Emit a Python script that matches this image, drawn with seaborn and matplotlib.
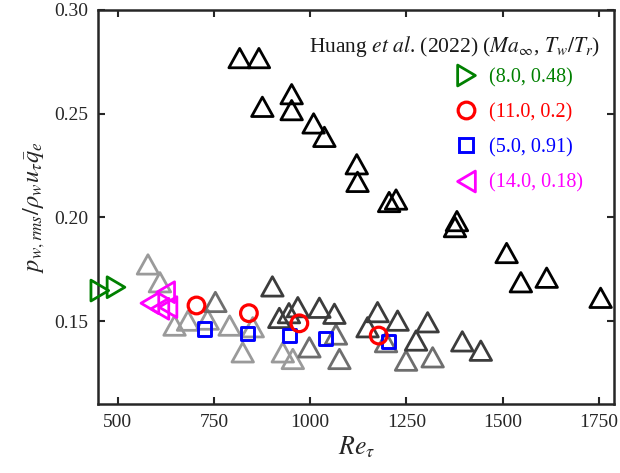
import numpy as np
import pandas as pd
import matplotlib
matplotlib.use('Agg')
import matplotlib.pyplot as plt
from matplotlib.path import Path
from matplotlib.lines import Line2D
import seaborn as sns

# upper branch (black)
re_black = [817, 867, 876, 952, 952, 1009, 1037, 1121, 1123, 1205, 1223, 1381, 1376, 1510, 1547, 1614, 1754]
p_black = [0.2768, 0.2768, 0.2533, 0.2594, 0.2517, 0.2453, 0.2388, 0.2256, 0.2171, 0.2074, 0.2086,
           0.1982, 0.1953, 0.1828, 0.1687, 0.1709, 0.1612]

# lower branch, three grey shades
re_dark = [902, 920, 945, 968, 1024, 1063, 1149, 1175, 1227, 1275, 1305, 1395, 1443]
p_dark = [0.1667, 0.1515, 0.1538, 0.1567, 0.1564, 0.1535, 0.147, 0.1543, 0.1502, 0.1406, 0.1494, 0.1402, 0.1357]

re_mid = [754, 998, 1067, 1076, 1197, 1249, 1318]
p_mid = [0.1592, 0.1373, 0.1435, 0.1317, 0.1398, 0.1309, 0.1325]

re_light = [579, 610, 648, 683, 734, 791, 825, 851, 929, 955]
p_light = [0.1773, 0.1687, 0.1478, 0.1502, 0.1507, 0.1478, 0.1349, 0.147, 0.1349, 0.1317]

# Huang et al. (2022)
re_green = [454, 496]
p_green = [0.1647, 0.1663]
re_red = [705, 841, 972, 1178]
p_red = [0.1575, 0.1538, 0.1489, 0.143]
re_blue = [726, 838, 946, 1040, 1204]
p_blue = [0.1462, 0.1441, 0.143, 0.1414, 0.1401]
re_mag = [584, 610, 625, 631]
p_mag = [0.1586, 0.1559, 0.1639, 0.1567]

huang_labels = ['(8.0, 0.48)', '(11.0, 0.2)', '(5.0, 0.91)', '(14.0, 0.18)']
huang_colors = ['#008000', '#ff0000', '#0000ff', '#ff00ff']

sns.set_style('ticks')
plt.rcParams['font.family'] = ['Liberation Serif', 'DejaVu Serif']
plt.rcParams['mathtext.fontset'] = 'stix'

tri_up = Path([(-1, -0.9), (1, -0.9), (0, 0.9), (-1, -0.9)], closed=True)
tri_right = Path([(-0.85, -1), (0.85, 0), (-0.85, 1), (-0.85, -1)], closed=True)
tri_left = Path([(0.85, -1), (-0.85, 0), (0.85, 1), (0.85, -1)], closed=True)

fig = plt.figure(figsize=(6.2, 4.73), dpi=100)
ax = fig.add_axes([0.1585, 0.1459, 0.8326, 0.833])

tri_s = 15.5 ** 2
lw = 2.0
for xs, ys, c in [(re_light, p_light, '#9a9a9a'), (re_mid, p_mid, '#6e6e6e'),
                  (re_dark, p_dark, '#3c3c3c'), (re_black, p_black, '#000000')]:
    sns.scatterplot(x=xs, y=ys, marker=tri_up, s=tri_s, facecolor='none', edgecolor=c,
                    linewidth=lw, ax=ax, zorder=3)

sns.scatterplot(x=re_mag, y=p_mag, marker=tri_left, s=15 ** 2, facecolor='none',
                edgecolor=huang_colors[3], linewidth=lw, ax=ax, zorder=4)
sns.scatterplot(x=re_blue, y=p_blue, marker='s', s=9.5 ** 2, facecolor='none',
                edgecolor=huang_colors[2], linewidth=2.1, ax=ax, zorder=4)
sns.scatterplot(x=re_red, y=p_red, marker='o', s=12 ** 2, facecolor='none',
                edgecolor=huang_colors[1], linewidth=2.3, ax=ax, zorder=5)
sns.scatterplot(x=re_green, y=p_green, marker=tri_right, s=15 ** 2, facecolor='none',
                edgecolor=huang_colors[0], linewidth=lw, ax=ax, zorder=5, clip_on=False)

ax.set_xlim(450, 1790)
ax.set_ylim(0.11, 0.30)
ax.set_xticks([500, 750, 1000, 1250, 1500, 1750])
ax.set_yticks([0.15, 0.20, 0.25, 0.30])
ax.set_yticklabels(['0.15', '0.20', '0.25', '0.30'])
ax.tick_params(direction='in', length=5, width=1.5, top=True, right=True,
               labelsize=14, color='#262626', labelcolor='#262626', pad=7)
for sp in ax.spines.values():
    sp.set_linewidth(1.8)
    sp.set_color('#262626')

ax.set_xlabel(r'$Re_\tau$', fontsize=18.5, labelpad=3)
ax.set_ylabel(r'$p_{w,rms}/\rho_w u_\tau \bar{q}_e$', fontsize=17.5, labelpad=5)

# legend heading as plain text, entries as a legend below it
ax.text(0.972, 0.893, r'Huang $\mathit{et\ al}$. (2022) ($Ma_{\infty}$, $T_w/T_r$)',
        transform=ax.transAxes, ha='right', va='baseline', fontsize=15.5, color='#1a1a1a')

handles = [
    Line2D([], [], ls='none', marker=tri_right, ms=15, mfc='none', mec=huang_colors[0], mew=lw),
    Line2D([], [], ls='none', marker='o', ms=12, mfc='none', mec=huang_colors[1], mew=2.3),
    Line2D([], [], ls='none', marker='s', ms=9.5, mfc='none', mec=huang_colors[2], mew=2.1),
    Line2D([], [], ls='none', marker=tri_left, ms=15, mfc='none', mec=huang_colors[3], mew=lw),
]
leg = ax.legend(handles, huang_labels, loc='upper left', bbox_to_anchor=(0.693, 0.853),
                frameon=False, fontsize=14.5, labelspacing=0.79, handlelength=1.0,
                handletextpad=0.62, borderaxespad=0.0, borderpad=0.0)
for t, c in zip(leg.get_texts(), huang_colors):
    t.set_color(c)

fig.savefig('out.png', dpi=100)
